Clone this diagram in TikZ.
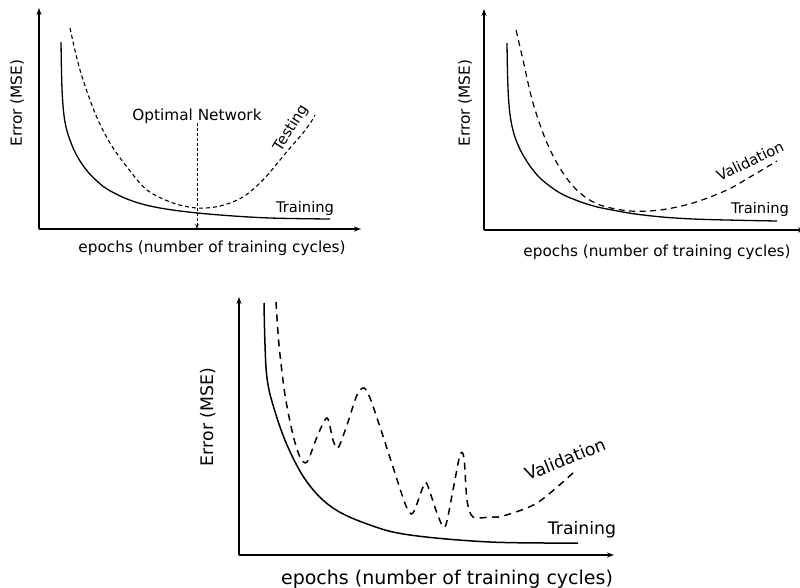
\documentclass[tikz,border=0pt]{standalone}
\usepackage{fontspec}
\setmainfont{DejaVu Sans}
\usetikzlibrary{arrows.meta}
\begin{document}
\begin{tikzpicture}[x=1pt,y=-1pt,
  axis/.style={line width=1.2pt,-{Stealth[length=7pt,width=5pt]}},
  train/.style={line width=1.3pt},
  testA/.style={line width=1.1pt,dash pattern=on 4pt off 3pt},
  testB/.style={line width=1.2pt,dash pattern=on 6pt off 4.5pt},
  testC/.style={line width=1.5pt,dash pattern=on 7pt off 5.5pt},
  lblA/.style={font=\fontsize{15.3}{17}\selectfont,inner sep=0pt},
  lblB/.style={font=\fontsize{14.7}{16}\selectfont,inner sep=0pt},
  lblC/.style={font=\fontsize{19}{21}\selectfont,inner sep=0pt},
  lblD/.style={font=\fontsize{17.3}{19}\selectfont,inner sep=0pt}]
\useasboundingbox (0,0) rectangle (800,588);
% ---------- panel 1 ----------
\coordinate (o1) at (39,229);
\coordinate (y1) at (39,8);
\coordinate (x1) at (361,229);
\draw[axis] (o1) -- (y1);
\draw[axis] (o1) -- (x1);
\draw[train] plot[smooth,tension=0.6] coordinates {(61,42) (61.7,80) (62.8,103) (64.5,119) (67,131) (70,140) (74,150) (80,161) (88,172) (97,181) (107,189) (127,199) (150,206) (180,211) (220,215) (270,218) (330,219)};
\draw[testA] plot[smooth,tension=0.55] coordinates {(70,28) (80,70) (95,113) (110,143) (127,167) (147,190) (173,203) (197,208) (220,206) (243,197) (263,180) (280,160) (290,148) (303,133) (311,122) (315,115)};
\node[lblA] (opt) at (197,116) {Optimal Network};
\coordinate (optend) at (197,229);
\draw[line width=0.6pt,dash pattern=on 3pt off 2pt,-{Stealth[length=5pt,width=3.5pt]}] (197,123) -- (optend);
\node[lblB,rotate=58] (testing) at (291,128) {Testing};
\node[lblB] (tr1) at (305,208) {Training};
\node[lblA] (ep1) at (212,248) {epochs (number of training cycles)};
\node[lblA,rotate=90] (er1) at (17,103) {Error (MSE)};
% ---------- panel 2 ----------
\coordinate (o2) at (484,230);
\coordinate (y2) at (484,9);
\coordinate (x2) at (805,230);
\draw[axis] (o2) -- (y2);
\draw[axis] (o2) -- (x2);
\draw[train] plot[smooth,tension=0.6] coordinates {(507,43) (507.7,80) (509,105) (511,121) (514,134) (518,145) (523,155) (530,166) (538,176) (547,184) (560,193) (573,199) (590,205) (607,209) (643,215) (693,219) (777,221)};
\draw[testB] plot[smooth,tension=0.55] coordinates {(516,30) (523,60) (533,103) (547,143) (563,173) (580,193) (600,205) (630,211) (660,210) (693,203) (727,190) (750,177) (777,161)};
\node[lblB,rotate=26] (val2) at (750,161) {Validation};
\node[lblB] (tr2) at (760,209) {Training};
\node[lblA] (ep2) at (657,252) {epochs (number of training cycles)};
\node[lblA,rotate=90] (er2) at (465,103) {Error (MSE)};
% ---------- panel 3 ----------
\coordinate (o3) at (239,555);
\coordinate (y3) at (239,297);
\coordinate (x3) at (614,555);
\draw[axis] (o3) -- (y3);
\draw[axis] (o3) -- (x3);
\draw[train,line width=1.5pt] plot[smooth,tension=0.6] coordinates {(264,303) (265,345) (267,378) (273,405) (287,445) (307,482) (333,508) (370,525) (410,535) (490,542) (578,543)};
\draw[testC] plot[smooth,tension=0.5] coordinates {(276,302) (279,345) (285,395) (293,435) (300,457) (307,462) (317,437) (327,418) (333,440) (338,448) (347,425) (357,395) (364,388) (370,398) (380,427) (393,467) (406,506) (413,513) (423,487) (427,484) (437,513) (445,527) (453,490) (460,455) (464,458) (467,500) (473,517) (490,517) (503,516) (537,503) (573,473)};
\node[lblD,rotate=22] (val3) at (565,459) {Validation};
\node[lblD] (tr3) at (582,530) {Training};
\node[lblC] (ep3) at (447,579) {epochs (number of training cycles)};
\node[lblD,rotate=90] (er3) at (208,417) {Error (MSE)};
\end{tikzpicture}
\end{document}
